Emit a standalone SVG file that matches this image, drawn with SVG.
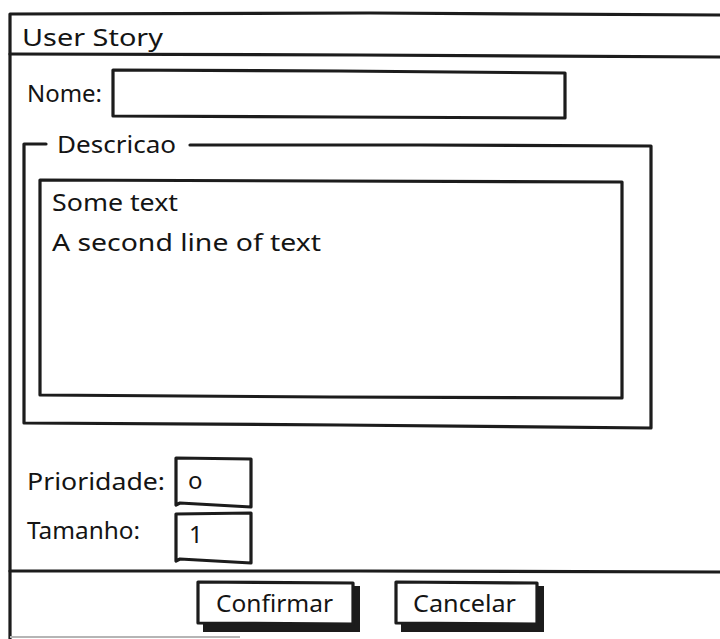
<svg xmlns="http://www.w3.org/2000/svg" width="720" height="639" viewBox="0 0 720 639">
  <style>
    .ln { fill: none; stroke: #1c1c1c; stroke-width: 3.2; stroke-linejoin: round; stroke-linecap: round; }
    .box { fill: #ffffff; stroke: #1c1c1c; stroke-width: 3.2; stroke-linejoin: round; }
    .shadow { fill: #1c1c1c; }
    .tx { font-family: "Comic Sans MS", "Noto Sans", "DejaVu Sans", sans-serif; font-size: 24px; fill: #141414; }
  </style>
  <rect width="720" height="639" fill="#ffffff"/>

  <!-- window frame -->
  <g id="window">
    <path class="ln" d="M10 639 L10 14 L370 13 L720 15"/>
    <path class="ln" d="M10 54 L360 55 L720 57"/>
    <path d="M10 637 L240 637" stroke="#b5b5b5" stroke-width="2" fill="none"/>
    <text class="tx" x="22" y="46" textLength="141" lengthAdjust="spacingAndGlyphs">User Story</text>
  </g>

  <!-- name field -->
  <g id="nome">
    <text class="tx" x="27" y="102" textLength="75" lengthAdjust="spacingAndGlyphs">Nome:</text>
    <path class="box" d="M113 70 L340 71 L565 73 L565 118 L340 117 L113 116 Z"/>
  </g>

  <!-- description group -->
  <g id="descricao">
    <path class="ln" d="M46 144 L24 144 L24 423 L340 425 L651 428 L651 146 L420 145 L190 145"/>
    <text class="tx" x="57" y="153" textLength="119" lengthAdjust="spacingAndGlyphs">Descricao</text>
    <path class="box" d="M40 180 L330 181 L622 182 L622 398 L330 397 L40 395 Z"/>
    <text class="tx" x="52" y="211" textLength="126" lengthAdjust="spacingAndGlyphs">Some text</text>
    <text class="tx" x="52" y="251" textLength="269" lengthAdjust="spacingAndGlyphs">A second line of text</text>
  </g>

  <!-- priority field -->
  <g id="prioridade">
    <text class="tx" x="27" y="490" textLength="138" lengthAdjust="spacingAndGlyphs">Prioridade:</text>
    <path class="box" d="M176 458 L251 459 L251 507 L180 503 L176 505 Z"/>
    <text class="tx" x="188" y="489" font-size="19">o</text>
  </g>

  <!-- size field -->
  <g id="tamanho">
    <text class="tx" x="27" y="539" textLength="113" lengthAdjust="spacingAndGlyphs">Tamanho:</text>
    <path class="box" d="M176 514 L251 513 L251 563 L180 559 L176 561 Z"/>
    <text class="tx" x="189" y="543">1</text>
  </g>

  <!-- footer separator -->
  <path class="ln" d="M10 571 L360 571 L720 572"/>

  <!-- buttons -->
  <g id="btn-confirmar">
    <path class="shadow" d="M203 586 L360 586 L360 632 L203 632 Z"/>
    <path class="box" d="M198 582 L353 583 L353 624 L198 623 Z"/>
    <text class="tx" x="216" y="612" textLength="117" lengthAdjust="spacingAndGlyphs">Confirmar</text>
  </g>
  <g id="btn-cancelar">
    <path class="shadow" d="M401 586 L544 586 L544 632 L401 632 Z"/>
    <path class="box" d="M396 582 L537 583 L537 624 L396 623 Z"/>
    <text class="tx" x="413" y="612" textLength="103" lengthAdjust="spacingAndGlyphs">Cancelar</text>
  </g>
</svg>
